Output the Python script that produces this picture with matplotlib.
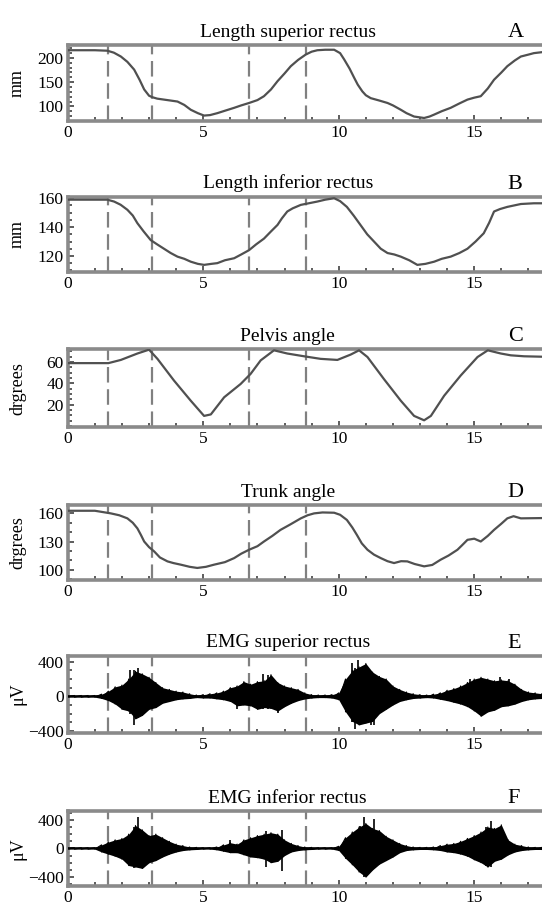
import numpy as np
import matplotlib
matplotlib.use("Agg")
import matplotlib.pyplot as plt
from matplotlib.ticker import MultipleLocator

plt.rcParams['font.family'] = ['Liberation Serif', 'DejaVu Serif']

# phase markers (s)
phase_x = [1.5, 3.1, 6.7, 8.8]

# A: length superior rectus (mm)
a_x = [0, 0.5, 1.0, 1.46, 1.7, 1.96, 2.2, 2.45, 2.65, 2.82, 3.0, 3.12, 3.3, 3.55, 4.05,
       4.3, 4.54, 4.8, 5.03, 5.25, 5.52, 5.8, 6.14, 6.4, 6.69, 7.0, 7.24, 7.5, 7.74,
       8.0, 8.23, 8.5, 8.78, 9.0, 9.21, 9.5, 9.83, 10.05, 10.2, 10.4, 10.57, 10.7,
       10.87, 11.0, 11.18, 11.5, 11.8, 12.0, 12.29, 12.5, 12.78, 13.15, 13.35, 13.52,
       13.8, 14.13, 14.45, 14.75, 15.0, 15.24, 15.5, 15.73, 16.0, 16.22, 16.5, 16.72,
       17.0, 17.2, 17.5]
a_y = [216, 216, 216, 215, 211, 203, 192, 176, 155, 135, 122, 119, 116, 114, 110,
       103, 93, 86, 81, 82, 86, 91, 97, 102, 107, 113, 121, 135, 152,
       168, 183, 196, 207, 213, 216, 217, 217, 210, 197, 178, 159, 145,
       131, 123, 117, 112, 107, 102, 93, 86, 79, 76, 79, 83,
       90, 97, 106, 114, 118, 121, 137, 155, 170, 183, 195, 203,
       207, 210, 212]

# B: length inferior rectus (mm)
b_x = [0, 0.5, 1.0, 1.46, 1.71, 1.95, 2.2, 2.4, 2.57, 2.8, 3.06, 3.3, 3.55, 3.8, 4.05,
       4.3, 4.54, 4.8, 5.03, 5.3, 5.52, 5.8, 6.14, 6.4, 6.69, 6.95, 7.24, 7.5, 7.74,
       7.9, 8.1, 8.3, 8.6, 9.21, 9.5, 9.83, 10.05, 10.3, 10.55, 10.8, 11.05, 11.3,
       11.55, 11.8, 12.05, 12.29, 12.6, 12.9, 13.2, 13.52, 13.8, 14.13, 14.45, 14.75,
       15.05, 15.35, 15.55, 15.73, 15.95, 16.22, 16.72, 17.2, 17.5]
b_y = [159, 159, 159, 159, 157.7, 155.5, 152, 148, 142.7, 137, 131, 128, 125, 122, 119.5,
       118, 116, 114.5, 113.8, 114.5, 115, 117, 118.4, 121, 124, 128, 132, 137, 141.5,
       146, 150.8, 153, 155.4, 157.7, 159, 160, 158, 154, 148, 141.5, 135, 130,
       125, 122, 121, 119.5, 117, 113.8, 114.5, 116, 118, 119.5, 122, 125,
       130, 135.7, 143, 150.8, 152.5, 154, 156, 156.5, 156.5]

# C: pelvis angle (degrees)
c_x = [0, 0.5, 1.0, 1.5, 1.96, 2.57, 3.0, 3.31, 3.92, 4.54, 5.03, 5.28, 5.77, 6.38,
       6.75, 7.12, 7.61, 8.1, 8.72, 9.33, 9.95, 10.44, 10.75, 11.06, 11.67, 12.29,
       12.78, 13.15, 13.4, 13.89, 14.5, 15.12, 15.5, 15.98, 16.35, 16.84, 17.5]
c_y = [59, 59, 59, 59, 62, 68, 71.6, 63, 42.7, 23.8, 9.6, 11, 27, 39.5,
       49, 61.6, 71, 68, 65.4, 63, 62, 67, 71, 64.7, 44, 23.8,
       9.6, 5.5, 9.6, 28.5, 47.4, 64.7, 71, 68, 66.3, 65.4, 65]

# D: trunk angle (degrees)
d_x = [0, 0.5, 1.0, 1.59, 1.9, 2.2, 2.4, 2.57, 2.7, 2.82, 3.0, 3.19, 3.4, 3.68, 3.9,
       4.17, 4.5, 4.78, 5.1, 5.4, 5.8, 6.14, 6.4, 6.69, 7.0, 7.24, 7.55, 7.85, 8.2,
       8.6, 8.85, 9.09, 9.4, 9.83, 10.05, 10.3, 10.5, 10.67, 10.85, 11.06, 11.3, 11.55,
       11.8, 12.04, 12.3, 12.53, 12.8, 13.15, 13.45, 13.76, 14.05, 14.38, 14.55, 14.75,
       15.0, 15.24, 15.5, 15.73, 16.0, 16.22, 16.45, 16.72, 17.5]
d_y = [162.8, 162.8, 162.8, 160, 158, 154.7, 150, 144, 137, 130, 124, 119.4, 113, 108.8, 107,
       105.3, 103, 101.8, 103, 105.3, 108, 112.3, 117, 121.2, 125, 130, 136, 142.4, 148,
       154.7, 158, 160, 161, 160.7, 158.5, 153, 145, 137, 128, 121.2, 116, 112.3,
       109, 107, 109, 108.8, 106, 103.5, 105, 110.6, 115, 121.2, 126, 131.8,
       133, 130, 136, 142.4, 149, 154.7, 157, 154.7, 155]

# EMG envelopes, sampled every 0.25 s from 0 to 17.5 (µV)
emg_t = np.arange(71) * 0.25
e_up = [10, 10, 10, 10, 10, 25, 60, 110, 130, 200,
        290, 260, 220, 160, 100, 80, 60, 50, 30, 15,
        20, 30, 40, 60, 100, 120, 170, 140, 170, 180,
        250, 160, 120, 100, 80, 40, 20, 15, 15, 20,
        40, 200, 300, 340, 380, 280, 230, 200, 120, 80,
        50, 30, 20, 15, 25, 40, 70, 90, 120, 160,
        200, 220, 200, 180, 190, 180, 140, 80, 50, 40,
        30]
e_lo = [10, 10, 10, 10, 10, 25, 50, 90, 150, 170,
        260, 220, 150, 130, 80, 60, 40, 30, 25, 15,
        20, 20, 30, 40, 60, 110, 100, 110, 150, 130,
        140, 170, 120, 80, 50, 30, 20, 15, 15, 20,
        40, 180, 290, 330, 310, 290, 200, 150, 100, 60,
        40, 25, 20, 15, 20, 35, 50, 70, 90, 120,
        170, 230, 180, 160, 120, 110, 90, 60, 40, 30,
        25]
f_up = [10, 10, 10, 10, 10, 50, 90, 120, 140, 200,
        320, 260, 180, 200, 150, 100, 60, 40, 20, 15,
        10, 10, 20, 50, 80, 60, 120, 150, 180, 200,
        220, 200, 120, 70, 40, 20, 15, 10, 10, 10,
        30, 150, 230, 300, 350, 280, 250, 170, 120, 70,
        40, 20, 15, 15, 20, 40, 60, 70, 100, 140,
        180, 230, 300, 280, 330, 120, 60, 40, 20, 15,
        15]
f_lo = [10, 10, 10, 10, 10, 50, 80, 110, 150, 240,
        260, 280, 200, 170, 120, 80, 50, 30, 20, 15,
        10, 10, 20, 40, 60, 60, 90, 120, 130, 150,
        200, 180, 100, 50, 30, 20, 15, 10, 10, 10,
        30, 140, 230, 330, 400, 300, 220, 170, 120, 60,
        30, 20, 15, 15, 20, 30, 50, 60, 80, 110,
        160, 200, 260, 180, 150, 90, 50, 30, 20, 15,
        15]
# single large spikes (time, top, bottom)
e_spk_t = [2.3, 2.45, 2.6, 6.25, 7.2, 7.4, 7.75, 10.5, 10.6, 10.7, 11.2, 11.3, 14.85, 15.2, 15.95, 16.3]
e_spk_top = [300, 300, 330, 100, 260, 250, 150, 380, 330, 420, 260, 250, 200, 200, 220, 200]
e_spk_bot = [-200, -330, -250, -150, -150, -150, -190, -300, -380, -300, -330, -330, -130, -220, -120, -110]
f_spk_t = [2.45, 2.6, 6.0, 7.3, 7.9, 10.8, 10.95, 11.3, 15.45, 15.6]
f_spk_top = [300, 446, 124, 240, 262, 320, 446, 410, 300, 377]
f_spk_bot = [-280, -260, -60, -267, -313, -330, -400, -250, -250, -267]

titles = ['Length superior rectus', 'Length inferior rectus', 'Pelvis angle',
          'Trunk angle', 'EMG superior rectus', 'EMG inferior rectus']
letters = ['A', 'B', 'C', 'D', 'E', 'F']
ylabels = ['mm', 'mm', 'drgrees', 'drgrees', 'μV', 'μV']
yticks = [[100, 150, 200], [120, 140, 160], [20, 40, 60], [100, 130, 160],
          [-400, 0, 400], [-400, 0, 400]]
yminor = [10, 5, 5, 10, 100, 100]
ylims = [(70, 227), (109, 161), (-1, 72), (89, 169), (-420, 470), (-530, 520)]

# axes boxes in figure fraction (left, bottom, width, height)
boxes = [(0.125, 0.867, 0.875, 0.0836),
         (0.125, 0.701, 0.875, 0.0825),
         (0.125, 0.530, 0.875, 0.0858),
         (0.125, 0.362, 0.875, 0.0825),
         (0.125, 0.194, 0.875, 0.0847),
         (0.125, 0.025, 0.875, 0.0825)]

fig = plt.figure(figsize=(5.42, 9.09), dpi=100)
line_c = '#505050'
spine_c = '#8a8a8a'

curves = [(a_x, a_y), (b_x, b_y), (c_x, c_y), (d_x, d_y)]
emgs = [(e_up, e_lo, e_spk_t, e_spk_top, e_spk_bot),
        (f_up, f_lo, f_spk_t, f_spk_top, f_spk_bot)]

for i in range(6):
    ax = fig.add_axes(boxes[i])
    for px in phase_x:
        ax.axvline(px, color='#808080', lw=1.6, ls=(0, (7, 3)), zorder=1)
    if i < 4:
        ax.plot(curves[i][0], curves[i][1], color=line_c, lw=1.6, zorder=3)
    else:
        up, lo, st, stop, sbot = emgs[i - 4]
        up = np.array(up)
        lo = -np.array(lo)
        ax.fill_between(emg_t, lo, up, color='black', lw=0, zorder=3)
        zx = np.repeat(emg_t, 2)
        zy = np.column_stack([up, lo]).ravel()
        ax.plot(zx, zy, color='black', lw=0.8, zorder=3)
        ax.vlines(st, sbot, stop, color='black', lw=1.2, zorder=3)
        ax.axhline(0, color='black', lw=1.2, zorder=3)
    ax.set_xlim(0, 17.5)
    ax.set_ylim(*ylims[i])
    ax.set_xticks([0, 5, 10, 15])
    ax.xaxis.set_minor_locator(MultipleLocator(1))
    ax.set_yticks(yticks[i])
    ax.yaxis.set_minor_locator(MultipleLocator(yminor[i]))
    ax.tick_params(which='both', direction='in', color='#505050', width=1.3,
                   labelsize=12.5, pad=3)
    ax.tick_params(which='major', length=4)
    ax.tick_params(which='minor', length=3)
    for s in ['top', 'bottom', 'left']:
        ax.spines[s].set_color(spine_c)
        ax.spines[s].set_linewidth(2.6)
    ax.spines['right'].set_visible(False)
    ax.set_ylabel(ylabels[i], fontsize=13)
    ax.yaxis.set_label_coords(-0.088, 0.5)
    ax.set_title(titles[i], fontsize=14, x=0.464, pad=6)
    ax.text(0.928, 1.04, letters[i], transform=ax.transAxes, fontsize=16,
            ha='left', va='bottom')

fig.savefig('out.png', dpi=100)
